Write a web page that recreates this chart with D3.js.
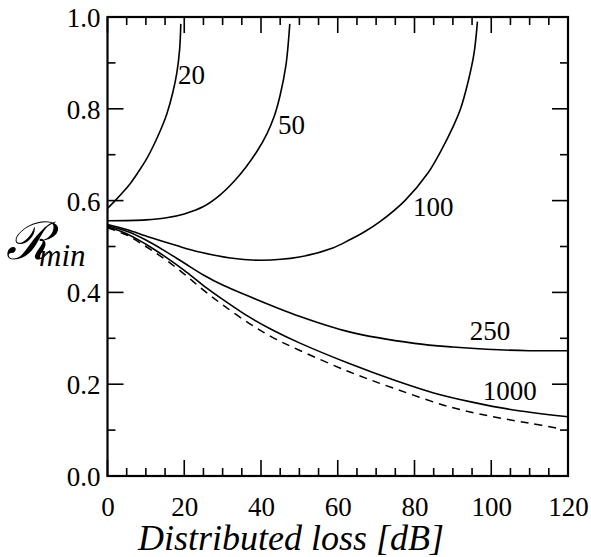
<!DOCTYPE html>
<html><head><meta charset="utf-8">
<script src="https://cdn.jsdelivr.net/npm/d3@7"></script>
<style>
html,body{margin:0;padding:0;background:#fff;}
svg{display:block;}
</style></head>
<body>
<svg id="chart" width="591" height="557"></svg>
<script>
// Data (x: distributed loss in dB, y: R_min)
const curve20 = [[0,0.583],[2,0.6],[4,0.618],[6,0.638],[8,0.662],[10,0.688],[12,0.72],[14,0.757],[15.5,0.79],[17,0.835],[18.1,0.88],[18.8,0.93],[19.1,0.985]];
const curve50 = [[0,0.556],[10,0.558],[15,0.562],[20,0.571],[25,0.587],[29.3,0.612],[33,0.642],[36,0.672],[39,0.708],[41.5,0.745],[43.5,0.785],[45,0.83],[46.5,0.895],[47.5,0.985]];
const curve100 = [[0,0.548],[5,0.537],[11,0.52],[18,0.502],[24,0.488],[32,0.475],[40,0.47],[50,0.477],[58.7,0.497],[63,0.514],[67,0.532],[71,0.554],[77.5,0.6],[83.5,0.66],[87,0.71],[90,0.76],[92,0.80],[94,0.86],[95.5,0.92],[96.4,0.99]];
const curve250 = [[0,0.545],[5,0.533],[10,0.514],[15,0.49],[20,0.464],[25,0.438],[30,0.416],[37,0.391],[50,0.348],[63,0.314],[80,0.289],[90,0.281],[102,0.275],[110,0.273],[120,0.273]];
const curve1000 = [[0,0.543],[5,0.528],[10,0.505],[15,0.478],[20,0.448],[25,0.415],[30,0.385],[37,0.346],[43,0.318],[50,0.29],[63,0.245],[75,0.208],[85,0.181],[95,0.161],[105,0.145],[120,0.129]];
const curveLimit = [[0,0.541],[5,0.525],[10,0.5],[15,0.472],[20,0.44],[25,0.405],[30,0.373],[37,0.332],[43,0.302],[50,0.274],[63,0.227],[75,0.19],[89,0.151],[100,0.13],[110,0.115],[118,0.103]];
const curveLabels = ["20","50","100","250","1000"];
const labelAnchors = [[18.4,0.874],[44.4,0.765],[79.6,0.586],[94.4,0.316],[97.8,0.187]];
const xTickValues = [0,20,40,60,80,100,120];
const yTickValues = [0.0,0.2,0.4,0.6,0.8,1.0];

const FONT = "Liberation Serif";
const FS = 27;
const svg = d3.select("#chart");
const L = 107.5, R = 568, T = 17, B = 476;
const x = d3.scaleLinear().domain([0,120]).range([L,R]);
const y = d3.scaleLinear().domain([0,1]).range([B,T]);

const minorX = d3.range(0,121,5), minorY = d3.range(0,1.0001,0.1);
const g = svg.append("g");
function isMajorX(v){return Math.abs(v%20)<1e-6;}
function isMajorY(v){return Math.abs(Math.round(v*10)%2)===0;}
minorX.forEach(v=>{
  const len = isMajorX(v)?16:8;
  g.append("line").attr("x1",x(v)).attr("x2",x(v)).attr("y1",B).attr("y2",B-len).attr("stroke","#000").attr("stroke-width",1.6);
  g.append("line").attr("x1",x(v)).attr("x2",x(v)).attr("y1",T).attr("y2",T+len).attr("stroke","#000").attr("stroke-width",1.6);
});
minorY.forEach(v=>{
  const len = isMajorY(v)?16:8;
  g.append("line").attr("x1",L).attr("x2",L+len).attr("y1",y(v)).attr("y2",y(v)).attr("stroke","#000").attr("stroke-width",1.6);
  g.append("line").attr("x1",R).attr("x2",R-len).attr("y1",y(v)).attr("y2",y(v)).attr("stroke","#000").attr("stroke-width",1.6);
});
g.append("rect").attr("x",L).attr("y",T).attr("width",R-L).attr("height",B-T).attr("fill","none").attr("stroke","#000").attr("stroke-width",2.2);

const xAxis = d3.axisBottom(x).tickValues(xTickValues).tickSize(0).tickPadding(0).tickFormat(d3.format("d"));
const xa = svg.append("g").attr("transform",`translate(0,${B})`).call(xAxis).attr("font-family",FONT).attr("font-size",FS);
xa.select(".domain").remove();
xa.selectAll("text").attr("font-family",FONT).attr("font-size",FS).attr("fill","#000").attr("dy",null).attr("y",40);

const yAxis = d3.axisLeft(y).tickValues(yTickValues).tickSize(0).tickPadding(0).tickFormat(d3.format(".1f"));
const ya = svg.append("g").attr("transform",`translate(${L-7},0)`).call(yAxis).attr("font-family",FONT).attr("font-size",FS);
ya.select(".domain").remove();
ya.selectAll("text").attr("font-family",FONT).attr("font-size",FS).attr("fill","#000").attr("dy","0.35em");

const line = d3.line().x(d=>x(d[0])).y(d=>y(d[1])).curve(d3.curveCatmullRom.alpha(0.5));
[curve20,curve50,curve100,curve250,curve1000].forEach(c=>{
  svg.append("path").datum(c).attr("d",line).attr("fill","none").attr("stroke","#000").attr("stroke-width",1.6);
});
svg.append("path").datum(curveLimit).attr("d",line).attr("fill","none").attr("stroke","#000").attr("stroke-width",1.5).attr("stroke-dasharray","8,6");

curveLabels.forEach((t,i)=>{
  svg.append("text").attr("x",x(labelAnchors[i][0])).attr("y",y(labelAnchors[i][1])).attr("dy","0.35em")
    .attr("font-family",FONT).attr("font-size",FS).text(t);
});

svg.append("text").attr("x",291).attr("y",550).attr("text-anchor","middle").attr("font-family",FONT)
  .attr("font-size",36).attr("font-style","italic").text("Distributed loss [dB]");
const yl = svg.append("text").attr("x",6).attr("y",259).attr("font-family",FONT).attr("font-size",52).attr("font-style","italic");
yl.append("tspan").text("\u211B");
yl.append("tspan").attr("font-size",31).attr("dx",-12).attr("dy",7).text("min");
</script>
</body></html>
